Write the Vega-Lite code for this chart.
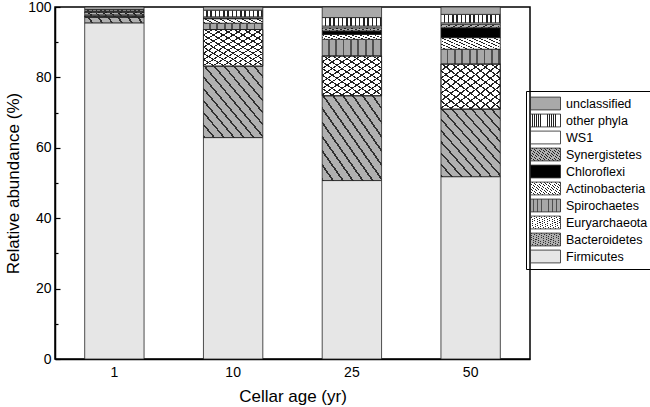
{
  "$schema": "https://vega.github.io/schema/vega-lite/v6.json",
  "width": 475,
  "height": 352,
  "autosize": "none",
  "padding": {"left": 55, "top": 7, "right": 120, "bottom": 48},
  "config": {
    "font": "Liberation Sans",
    "view": {"stroke": "#000000", "strokeWidth": 1.5},
    "axis": {"domainColor": "#000000", "domainWidth": 1.5, "labelColor": "#000000", "titleColor": "#000000", "tickColor": "#000000", "grid": false, "labelFont": "Liberation Sans", "titleFont": "Liberation Sans", "titleFontWeight": "normal"}
  },
  "params": [
    {"name": "g_other", "value": {"gradient": "linear", "x1": 0, "y1": 0, "x2": 1, "y2": 0, "stops": [
      {"offset": 0, "color": "#ffffff"}, {"offset": 0.0464, "color": "#ffffff"}, {"offset": 0.0464, "color": "#222222"}, {"offset": 0.0714, "color": "#222222"},
      {"offset": 0.0714, "color": "#ffffff"}, {"offset": 0.1179, "color": "#ffffff"}, {"offset": 0.1179, "color": "#222222"}, {"offset": 0.1429, "color": "#222222"},
      {"offset": 0.1429, "color": "#ffffff"}, {"offset": 0.1893, "color": "#ffffff"}, {"offset": 0.1893, "color": "#222222"}, {"offset": 0.2143, "color": "#222222"},
      {"offset": 0.2143, "color": "#ffffff"}, {"offset": 0.2607, "color": "#ffffff"}, {"offset": 0.2607, "color": "#222222"}, {"offset": 0.2857, "color": "#222222"},
      {"offset": 0.2857, "color": "#ffffff"}, {"offset": 0.3321, "color": "#ffffff"}, {"offset": 0.3321, "color": "#222222"}, {"offset": 0.3571, "color": "#222222"},
      {"offset": 0.3571, "color": "#ffffff"}, {"offset": 0.4036, "color": "#ffffff"}, {"offset": 0.4036, "color": "#222222"}, {"offset": 0.4286, "color": "#222222"},
      {"offset": 0.4286, "color": "#ffffff"}, {"offset": 0.475, "color": "#ffffff"}, {"offset": 0.475, "color": "#222222"}, {"offset": 0.5, "color": "#222222"},
      {"offset": 0.5, "color": "#ffffff"}, {"offset": 0.5464, "color": "#ffffff"}, {"offset": 0.5464, "color": "#222222"}, {"offset": 0.5714, "color": "#222222"},
      {"offset": 0.5714, "color": "#ffffff"}, {"offset": 0.6179, "color": "#ffffff"}, {"offset": 0.6179, "color": "#222222"}, {"offset": 0.6429, "color": "#222222"},
      {"offset": 0.6429, "color": "#ffffff"}, {"offset": 0.6893, "color": "#ffffff"}, {"offset": 0.6893, "color": "#222222"}, {"offset": 0.7143, "color": "#222222"},
      {"offset": 0.7143, "color": "#ffffff"}, {"offset": 0.7607, "color": "#ffffff"}, {"offset": 0.7607, "color": "#222222"}, {"offset": 0.7857, "color": "#222222"},
      {"offset": 0.7857, "color": "#ffffff"}, {"offset": 0.8321, "color": "#ffffff"}, {"offset": 0.8321, "color": "#222222"}, {"offset": 0.8571, "color": "#222222"},
      {"offset": 0.8571, "color": "#ffffff"}, {"offset": 0.9036, "color": "#ffffff"}, {"offset": 0.9036, "color": "#222222"}, {"offset": 0.9286, "color": "#222222"},
      {"offset": 0.9286, "color": "#ffffff"}, {"offset": 0.975, "color": "#ffffff"}, {"offset": 0.975, "color": "#222222"}, {"offset": 1, "color": "#222222"}
    ]}},
    {"name": "g_syn", "value": {"gradient": "linear", "x1": 0, "y1": 0, "x2": 1, "y2": 1, "stops": [
      {"offset": 0, "color": "#b0b0b0"}, {"offset": 0.0469, "color": "#b0b0b0"}, {"offset": 0.0469, "color": "#222222"}, {"offset": 0.0625, "color": "#222222"},
      {"offset": 0.0625, "color": "#b0b0b0"}, {"offset": 0.1094, "color": "#b0b0b0"}, {"offset": 0.1094, "color": "#222222"}, {"offset": 0.125, "color": "#222222"},
      {"offset": 0.125, "color": "#b0b0b0"}, {"offset": 0.1719, "color": "#b0b0b0"}, {"offset": 0.1719, "color": "#222222"}, {"offset": 0.1875, "color": "#222222"},
      {"offset": 0.1875, "color": "#b0b0b0"}, {"offset": 0.2344, "color": "#b0b0b0"}, {"offset": 0.2344, "color": "#222222"}, {"offset": 0.25, "color": "#222222"},
      {"offset": 0.25, "color": "#b0b0b0"}, {"offset": 0.2969, "color": "#b0b0b0"}, {"offset": 0.2969, "color": "#222222"}, {"offset": 0.3125, "color": "#222222"},
      {"offset": 0.3125, "color": "#b0b0b0"}, {"offset": 0.3594, "color": "#b0b0b0"}, {"offset": 0.3594, "color": "#222222"}, {"offset": 0.375, "color": "#222222"},
      {"offset": 0.375, "color": "#b0b0b0"}, {"offset": 0.4219, "color": "#b0b0b0"}, {"offset": 0.4219, "color": "#222222"}, {"offset": 0.4375, "color": "#222222"},
      {"offset": 0.4375, "color": "#b0b0b0"}, {"offset": 0.4844, "color": "#b0b0b0"}, {"offset": 0.4844, "color": "#222222"}, {"offset": 0.5, "color": "#222222"},
      {"offset": 0.5, "color": "#b0b0b0"}, {"offset": 0.5469, "color": "#b0b0b0"}, {"offset": 0.5469, "color": "#222222"}, {"offset": 0.5625, "color": "#222222"},
      {"offset": 0.5625, "color": "#b0b0b0"}, {"offset": 0.6094, "color": "#b0b0b0"}, {"offset": 0.6094, "color": "#222222"}, {"offset": 0.625, "color": "#222222"},
      {"offset": 0.625, "color": "#b0b0b0"}, {"offset": 0.6719, "color": "#b0b0b0"}, {"offset": 0.6719, "color": "#222222"}, {"offset": 0.6875, "color": "#222222"},
      {"offset": 0.6875, "color": "#b0b0b0"}, {"offset": 0.7344, "color": "#b0b0b0"}, {"offset": 0.7344, "color": "#222222"}, {"offset": 0.75, "color": "#222222"},
      {"offset": 0.75, "color": "#b0b0b0"}, {"offset": 0.7969, "color": "#b0b0b0"}, {"offset": 0.7969, "color": "#222222"}, {"offset": 0.8125, "color": "#222222"},
      {"offset": 0.8125, "color": "#b0b0b0"}, {"offset": 0.8594, "color": "#b0b0b0"}, {"offset": 0.8594, "color": "#222222"}, {"offset": 0.875, "color": "#222222"},
      {"offset": 0.875, "color": "#b0b0b0"}, {"offset": 0.9219, "color": "#b0b0b0"}, {"offset": 0.9219, "color": "#222222"}, {"offset": 0.9375, "color": "#222222"},
      {"offset": 0.9375, "color": "#b0b0b0"}, {"offset": 0.9844, "color": "#b0b0b0"}, {"offset": 0.9844, "color": "#222222"}, {"offset": 1, "color": "#222222"}
    ]}},
    {"name": "g_act", "value": {"gradient": "linear", "x1": 0, "y1": 0, "x2": 1, "y2": 1, "stops": [
      {"offset": 0, "color": "#ffffff"}, {"offset": 0.0469, "color": "#ffffff"}, {"offset": 0.0469, "color": "#222222"}, {"offset": 0.0625, "color": "#222222"},
      {"offset": 0.0625, "color": "#ffffff"}, {"offset": 0.1094, "color": "#ffffff"}, {"offset": 0.1094, "color": "#222222"}, {"offset": 0.125, "color": "#222222"},
      {"offset": 0.125, "color": "#ffffff"}, {"offset": 0.1719, "color": "#ffffff"}, {"offset": 0.1719, "color": "#222222"}, {"offset": 0.1875, "color": "#222222"},
      {"offset": 0.1875, "color": "#ffffff"}, {"offset": 0.2344, "color": "#ffffff"}, {"offset": 0.2344, "color": "#222222"}, {"offset": 0.25, "color": "#222222"},
      {"offset": 0.25, "color": "#ffffff"}, {"offset": 0.2969, "color": "#ffffff"}, {"offset": 0.2969, "color": "#222222"}, {"offset": 0.3125, "color": "#222222"},
      {"offset": 0.3125, "color": "#ffffff"}, {"offset": 0.3594, "color": "#ffffff"}, {"offset": 0.3594, "color": "#222222"}, {"offset": 0.375, "color": "#222222"},
      {"offset": 0.375, "color": "#ffffff"}, {"offset": 0.4219, "color": "#ffffff"}, {"offset": 0.4219, "color": "#222222"}, {"offset": 0.4375, "color": "#222222"},
      {"offset": 0.4375, "color": "#ffffff"}, {"offset": 0.4844, "color": "#ffffff"}, {"offset": 0.4844, "color": "#222222"}, {"offset": 0.5, "color": "#222222"},
      {"offset": 0.5, "color": "#ffffff"}, {"offset": 0.5469, "color": "#ffffff"}, {"offset": 0.5469, "color": "#222222"}, {"offset": 0.5625, "color": "#222222"},
      {"offset": 0.5625, "color": "#ffffff"}, {"offset": 0.6094, "color": "#ffffff"}, {"offset": 0.6094, "color": "#222222"}, {"offset": 0.625, "color": "#222222"},
      {"offset": 0.625, "color": "#ffffff"}, {"offset": 0.6719, "color": "#ffffff"}, {"offset": 0.6719, "color": "#222222"}, {"offset": 0.6875, "color": "#222222"},
      {"offset": 0.6875, "color": "#ffffff"}, {"offset": 0.7344, "color": "#ffffff"}, {"offset": 0.7344, "color": "#222222"}, {"offset": 0.75, "color": "#222222"},
      {"offset": 0.75, "color": "#ffffff"}, {"offset": 0.7969, "color": "#ffffff"}, {"offset": 0.7969, "color": "#222222"}, {"offset": 0.8125, "color": "#222222"},
      {"offset": 0.8125, "color": "#ffffff"}, {"offset": 0.8594, "color": "#ffffff"}, {"offset": 0.8594, "color": "#222222"}, {"offset": 0.875, "color": "#222222"},
      {"offset": 0.875, "color": "#ffffff"}, {"offset": 0.9219, "color": "#ffffff"}, {"offset": 0.9219, "color": "#222222"}, {"offset": 0.9375, "color": "#222222"},
      {"offset": 0.9375, "color": "#ffffff"}, {"offset": 0.9844, "color": "#ffffff"}, {"offset": 0.9844, "color": "#222222"}, {"offset": 1, "color": "#222222"}
    ]}},
    {"name": "g_spi", "value": {"gradient": "linear", "x1": 0, "y1": 0, "x2": 1, "y2": 0, "stops": [
      {"offset": 0, "color": "#a8a8a8"}, {"offset": 0.0938, "color": "#a8a8a8"}, {"offset": 0.0938, "color": "#505050"}, {"offset": 0.125, "color": "#505050"},
      {"offset": 0.125, "color": "#a8a8a8"}, {"offset": 0.2188, "color": "#a8a8a8"}, {"offset": 0.2188, "color": "#505050"}, {"offset": 0.25, "color": "#505050"},
      {"offset": 0.25, "color": "#a8a8a8"}, {"offset": 0.3438, "color": "#a8a8a8"}, {"offset": 0.3438, "color": "#505050"}, {"offset": 0.375, "color": "#505050"},
      {"offset": 0.375, "color": "#a8a8a8"}, {"offset": 0.4688, "color": "#a8a8a8"}, {"offset": 0.4688, "color": "#505050"}, {"offset": 0.5, "color": "#505050"},
      {"offset": 0.5, "color": "#a8a8a8"}, {"offset": 0.5938, "color": "#a8a8a8"}, {"offset": 0.5938, "color": "#505050"}, {"offset": 0.625, "color": "#505050"},
      {"offset": 0.625, "color": "#a8a8a8"}, {"offset": 0.7188, "color": "#a8a8a8"}, {"offset": 0.7188, "color": "#505050"}, {"offset": 0.75, "color": "#505050"},
      {"offset": 0.75, "color": "#a8a8a8"}, {"offset": 0.8438, "color": "#a8a8a8"}, {"offset": 0.8438, "color": "#505050"}, {"offset": 0.875, "color": "#505050"},
      {"offset": 0.875, "color": "#a8a8a8"}, {"offset": 0.9688, "color": "#a8a8a8"}, {"offset": 0.9688, "color": "#505050"}, {"offset": 1, "color": "#505050"}
    ]}},
    {"name": "g_eur", "value": {"gradient": "linear", "x1": 0, "y1": 0, "x2": 1, "y2": 1, "stops": [
      {"offset": 0, "color": "#ffffff"}, {"offset": 0.0667, "color": "#ffffff"}, {"offset": 0.0667, "color": "#222222"}, {"offset": 0.0833, "color": "#222222"},
      {"offset": 0.0833, "color": "#ffffff"}, {"offset": 0.15, "color": "#ffffff"}, {"offset": 0.15, "color": "#222222"}, {"offset": 0.1667, "color": "#222222"},
      {"offset": 0.1667, "color": "#ffffff"}, {"offset": 0.2333, "color": "#ffffff"}, {"offset": 0.2333, "color": "#222222"}, {"offset": 0.25, "color": "#222222"},
      {"offset": 0.25, "color": "#ffffff"}, {"offset": 0.3167, "color": "#ffffff"}, {"offset": 0.3167, "color": "#222222"}, {"offset": 0.3333, "color": "#222222"},
      {"offset": 0.3333, "color": "#ffffff"}, {"offset": 0.4, "color": "#ffffff"}, {"offset": 0.4, "color": "#222222"}, {"offset": 0.4167, "color": "#222222"},
      {"offset": 0.4167, "color": "#ffffff"}, {"offset": 0.4833, "color": "#ffffff"}, {"offset": 0.4833, "color": "#222222"}, {"offset": 0.5, "color": "#222222"},
      {"offset": 0.5, "color": "#ffffff"}, {"offset": 0.5667, "color": "#ffffff"}, {"offset": 0.5667, "color": "#222222"}, {"offset": 0.5833, "color": "#222222"},
      {"offset": 0.5833, "color": "#ffffff"}, {"offset": 0.65, "color": "#ffffff"}, {"offset": 0.65, "color": "#222222"}, {"offset": 0.6667, "color": "#222222"},
      {"offset": 0.6667, "color": "#ffffff"}, {"offset": 0.7333, "color": "#ffffff"}, {"offset": 0.7333, "color": "#222222"}, {"offset": 0.75, "color": "#222222"},
      {"offset": 0.75, "color": "#ffffff"}, {"offset": 0.8167, "color": "#ffffff"}, {"offset": 0.8167, "color": "#222222"}, {"offset": 0.8333, "color": "#222222"},
      {"offset": 0.8333, "color": "#ffffff"}, {"offset": 0.9, "color": "#ffffff"}, {"offset": 0.9, "color": "#222222"}, {"offset": 0.9167, "color": "#222222"},
      {"offset": 0.9167, "color": "#ffffff"}, {"offset": 0.9833, "color": "#ffffff"}, {"offset": 0.9833, "color": "#222222"}, {"offset": 1, "color": "#222222"}
    ]}},
    {"name": "g_bac", "value": {"gradient": "linear", "x1": 1, "y1": 0, "x2": 0, "y2": 1, "stops": [
      {"offset": 0, "color": "#b0b0b0"}, {"offset": 0.0667, "color": "#b0b0b0"}, {"offset": 0.0667, "color": "#303030"}, {"offset": 0.0833, "color": "#303030"},
      {"offset": 0.0833, "color": "#b0b0b0"}, {"offset": 0.15, "color": "#b0b0b0"}, {"offset": 0.15, "color": "#303030"}, {"offset": 0.1667, "color": "#303030"},
      {"offset": 0.1667, "color": "#b0b0b0"}, {"offset": 0.2333, "color": "#b0b0b0"}, {"offset": 0.2333, "color": "#303030"}, {"offset": 0.25, "color": "#303030"},
      {"offset": 0.25, "color": "#b0b0b0"}, {"offset": 0.3167, "color": "#b0b0b0"}, {"offset": 0.3167, "color": "#303030"}, {"offset": 0.3333, "color": "#303030"},
      {"offset": 0.3333, "color": "#b0b0b0"}, {"offset": 0.4, "color": "#b0b0b0"}, {"offset": 0.4, "color": "#303030"}, {"offset": 0.4167, "color": "#303030"},
      {"offset": 0.4167, "color": "#b0b0b0"}, {"offset": 0.4833, "color": "#b0b0b0"}, {"offset": 0.4833, "color": "#303030"}, {"offset": 0.5, "color": "#303030"},
      {"offset": 0.5, "color": "#b0b0b0"}, {"offset": 0.5667, "color": "#b0b0b0"}, {"offset": 0.5667, "color": "#303030"}, {"offset": 0.5833, "color": "#303030"},
      {"offset": 0.5833, "color": "#b0b0b0"}, {"offset": 0.65, "color": "#b0b0b0"}, {"offset": 0.65, "color": "#303030"}, {"offset": 0.6667, "color": "#303030"},
      {"offset": 0.6667, "color": "#b0b0b0"}, {"offset": 0.7333, "color": "#b0b0b0"}, {"offset": 0.7333, "color": "#303030"}, {"offset": 0.75, "color": "#303030"},
      {"offset": 0.75, "color": "#b0b0b0"}, {"offset": 0.8167, "color": "#b0b0b0"}, {"offset": 0.8167, "color": "#303030"}, {"offset": 0.8333, "color": "#303030"},
      {"offset": 0.8333, "color": "#b0b0b0"}, {"offset": 0.9, "color": "#b0b0b0"}, {"offset": 0.9, "color": "#303030"}, {"offset": 0.9167, "color": "#303030"},
      {"offset": 0.9167, "color": "#b0b0b0"}, {"offset": 0.9833, "color": "#b0b0b0"}, {"offset": 0.9833, "color": "#303030"}, {"offset": 1, "color": "#303030"}
    ]}},
    {"name": "g_eur2", "value": {"gradient": "linear", "x1": 1, "y1": 0, "x2": 0, "y2": 1, "stops": [
      {"offset": 0, "color": "rgba(0,0,0,0)"}, {"offset": 0.0667, "color": "rgba(0,0,0,0)"}, {"offset": 0.0667, "color": "#222222"}, {"offset": 0.0833, "color": "#222222"},
      {"offset": 0.0833, "color": "rgba(0,0,0,0)"}, {"offset": 0.15, "color": "rgba(0,0,0,0)"}, {"offset": 0.15, "color": "#222222"}, {"offset": 0.1667, "color": "#222222"},
      {"offset": 0.1667, "color": "rgba(0,0,0,0)"}, {"offset": 0.2333, "color": "rgba(0,0,0,0)"}, {"offset": 0.2333, "color": "#222222"}, {"offset": 0.25, "color": "#222222"},
      {"offset": 0.25, "color": "rgba(0,0,0,0)"}, {"offset": 0.3167, "color": "rgba(0,0,0,0)"}, {"offset": 0.3167, "color": "#222222"}, {"offset": 0.3333, "color": "#222222"},
      {"offset": 0.3333, "color": "rgba(0,0,0,0)"}, {"offset": 0.4, "color": "rgba(0,0,0,0)"}, {"offset": 0.4, "color": "#222222"}, {"offset": 0.4167, "color": "#222222"},
      {"offset": 0.4167, "color": "rgba(0,0,0,0)"}, {"offset": 0.4833, "color": "rgba(0,0,0,0)"}, {"offset": 0.4833, "color": "#222222"}, {"offset": 0.5, "color": "#222222"},
      {"offset": 0.5, "color": "rgba(0,0,0,0)"}, {"offset": 0.5667, "color": "rgba(0,0,0,0)"}, {"offset": 0.5667, "color": "#222222"}, {"offset": 0.5833, "color": "#222222"},
      {"offset": 0.5833, "color": "rgba(0,0,0,0)"}, {"offset": 0.65, "color": "rgba(0,0,0,0)"}, {"offset": 0.65, "color": "#222222"}, {"offset": 0.6667, "color": "#222222"},
      {"offset": 0.6667, "color": "rgba(0,0,0,0)"}, {"offset": 0.7333, "color": "rgba(0,0,0,0)"}, {"offset": 0.7333, "color": "#222222"}, {"offset": 0.75, "color": "#222222"},
      {"offset": 0.75, "color": "rgba(0,0,0,0)"}, {"offset": 0.8167, "color": "rgba(0,0,0,0)"}, {"offset": 0.8167, "color": "#222222"}, {"offset": 0.8333, "color": "#222222"},
      {"offset": 0.8333, "color": "rgba(0,0,0,0)"}, {"offset": 0.9, "color": "rgba(0,0,0,0)"}, {"offset": 0.9, "color": "#222222"}, {"offset": 0.9167, "color": "#222222"},
      {"offset": 0.9167, "color": "rgba(0,0,0,0)"}, {"offset": 0.9833, "color": "rgba(0,0,0,0)"}, {"offset": 0.9833, "color": "#222222"}, {"offset": 1, "color": "#222222"}
    ]}}
  ],
  "data": {"values": [
    {"age": "1", "phylum": "Firmicutes", "value": 95.5},
    {"age": "1", "phylum": "Bacteroidetes", "value": 1.6},
    {"age": "1", "phylum": "Euryarchaeota", "value": 0.3},
    {"age": "1", "phylum": "Spirochaetes", "value": 0.4},
    {"age": "1", "phylum": "Actinobacteria", "value": 0.6},
    {"age": "1", "phylum": "Chloroflexi", "value": 0},
    {"age": "1", "phylum": "Synergistetes", "value": 0.3},
    {"age": "1", "phylum": "WS1", "value": 0.2},
    {"age": "1", "phylum": "other phyla", "value": 0.4},
    {"age": "1", "phylum": "unclassified", "value": 0.7},
    {"age": "10", "phylum": "Firmicutes", "value": 62.9},
    {"age": "10", "phylum": "Bacteroidetes", "value": 20.3},
    {"age": "10", "phylum": "Euryarchaeota", "value": 10.4},
    {"age": "10", "phylum": "Spirochaetes", "value": 1.8},
    {"age": "10", "phylum": "Actinobacteria", "value": 1.3},
    {"age": "10", "phylum": "Chloroflexi", "value": 0},
    {"age": "10", "phylum": "Synergistetes", "value": 0.2},
    {"age": "10", "phylum": "WS1", "value": 0.3},
    {"age": "10", "phylum": "other phyla", "value": 1.9},
    {"age": "10", "phylum": "unclassified", "value": 0.9},
    {"age": "25", "phylum": "Firmicutes", "value": 50.7},
    {"age": "25", "phylum": "Bacteroidetes", "value": 24.1},
    {"age": "25", "phylum": "Euryarchaeota", "value": 11.3},
    {"age": "25", "phylum": "Spirochaetes", "value": 4.7},
    {"age": "25", "phylum": "Actinobacteria", "value": 1.4},
    {"age": "25", "phylum": "Chloroflexi", "value": 1.0},
    {"age": "25", "phylum": "Synergistetes", "value": 0.9},
    {"age": "25", "phylum": "WS1", "value": 0.5},
    {"age": "25", "phylum": "other phyla", "value": 2.4},
    {"age": "25", "phylum": "unclassified", "value": 3.0},
    {"age": "50", "phylum": "Firmicutes", "value": 51.8},
    {"age": "50", "phylum": "Bacteroidetes", "value": 19.2},
    {"age": "50", "phylum": "Euryarchaeota", "value": 12.8},
    {"age": "50", "phylum": "Spirochaetes", "value": 4.2},
    {"age": "50", "phylum": "Actinobacteria", "value": 3.3},
    {"age": "50", "phylum": "Chloroflexi", "value": 2.8},
    {"age": "50", "phylum": "Synergistetes", "value": 1.0},
    {"age": "50", "phylum": "WS1", "value": 0.4},
    {"age": "50", "phylum": "other phyla", "value": 2.4},
    {"age": "50", "phylum": "unclassified", "value": 2.1}
  ]},
  "transform": [
    {"stack": "value", "groupby": ["age"], "as": ["lo", "hi"]}
  ],
  "encoding": {
    "x": {"field": "age", "type": "ordinal", "sort": ["1", "10", "25", "50"],
      "scale": {"paddingInner": 0.5, "paddingOuter": 0.25},
      "axis": {"labelAngle": 0, "ticks": false, "labelFontSize": 14, "labelPadding": 6, "title": "Cellar age (yr)", "titleFontSize": 17, "titlePadding": 9}},
    "y2": {"field": "hi"}
  },
  "layer": [
    {
      "mark": {"type": "bar", "stroke": "#222222", "strokeWidth": 0.8},
      "encoding": {
        "y": {"field": "lo", "type": "quantitative", "scale": {"domain": [0, 100], "nice": false},
          "axis": {"values": [0, 20, 40, 60, 80, 100], "tickSize": -5, "tickWidth": 1.2, "labelPadding": 9, "labelFontSize": 14, "title": "Relative abundance (%)", "titleFontSize": 17, "titlePadding": 5}},
        "fill": {"field": "phylum", "type": "nominal",
          "scale": {
            "domain": ["unclassified", "other phyla", "WS1", "Synergistetes", "Chloroflexi", "Actinobacteria", "Spirochaetes", "Euryarchaeota", "Bacteroidetes", "Firmicutes"],
            "range": ["#a9a9a9", {"expr": "g_other"}, "#ffffff", {"expr": "g_syn"}, "#000000", {"expr": "g_act"}, {"expr": "g_spi"}, {"expr": "g_eur"}, {"expr": "g_bac"}, "#e6e6e6"]
          },
          "legend": {"title": null, "orient": "none", "legendX": 471, "legendY": 84, "padding": 4, "strokeColor": "#000000",
            "symbolType": "M-1.875,-0.8H1.875V0.8H-1.875Z", "symbolSize": 256, "symbolOffset": 7, "symbolStrokeColor": "#222222", "symbolStrokeWidth": 0.8, "symbolOpacity": 1,
            "labelFont": "Liberation Sans", "labelFontSize": 12.5, "labelColor": "#000000", "labelOffset": 12, "rowPadding": -2}
        }
      }
    },
    {
      "transform": [{"filter": "datum.phylum === 'Euryarchaeota'"}],
      "mark": {"type": "bar", "stroke": "#222222", "strokeWidth": 0.8},
      "encoding": {
        "y": {"field": "lo", "type": "quantitative", "scale": {"domain": [0, 100], "nice": false},
          "axis": {"orient": "left", "values": [10, 30, 50, 70, 90], "tickSize": -3, "tickWidth": 1.2, "labels": false, "domain": false, "title": null}},
        "fill": {"value": {"expr": "g_eur2"}}
      }
    }
  ],
  "resolve": {"axis": {"y": "independent"}}
}
